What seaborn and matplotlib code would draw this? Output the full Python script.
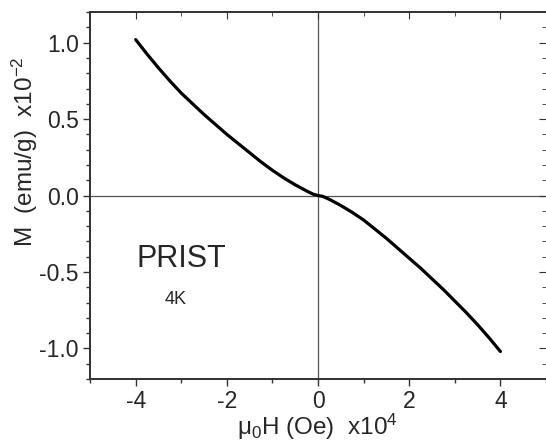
import pandas as pd
import matplotlib
matplotlib.use("Agg")
import matplotlib.pyplot as plt
from matplotlib.ticker import MultipleLocator
import seaborn as sns

sns.set_style("ticks")
plt.rcParams["font.family"] = ["Liberation Sans", "DejaVu Sans"]
plt.rcParams["mathtext.fontset"] = "custom"
plt.rcParams["mathtext.rm"] = "Liberation Sans"
plt.rcParams["mathtext.it"] = "Liberation Sans:italic"
plt.rcParams["mathtext.default"] = "regular"

# champ applique (x10^4 Oe) et aimantation (x10^-2 emu/g)
champ = [-4.0, -3.75, -3.5, -3.25, -3.0, -2.75, -2.5, -2.25, -2.0, -1.75,
         -1.5, -1.25, -1.0, -0.75, -0.5, -0.25, -0.1, 0.0,
         0.1, 0.25, 0.5, 0.75, 1.0, 1.25, 1.5, 1.75, 2.0, 2.25,
         2.5, 2.75, 3.0, 3.25, 3.5, 3.75, 4.0]
aimantation = [1.02, 0.925, 0.835, 0.75, 0.67, 0.60, 0.53, 0.465, 0.40, 0.34,
               0.28, 0.22, 0.165, 0.115, 0.07, 0.03, 0.008, 0.0,
               -0.005, -0.025, -0.065, -0.11, -0.16, -0.22, -0.28, -0.345, -0.41, -0.475,
               -0.545, -0.615, -0.69, -0.765, -0.845, -0.93, -1.02]
x_ticks = [-4, -2, 0, 2, 4]
y_ticks = [-1.0, -0.5, 0.0, 0.5, 1.0]

df = pd.DataFrame({"H": champ, "M": aimantation})

fig = plt.figure(figsize=(5.46, 4.48), dpi=100)
ax = fig.add_axes([0.165, 0.154, 0.835, 0.819])

ax.axhline(0, color="#555555", lw=0.9, zorder=1)
ax.axvline(0, color="#555555", lw=0.9, zorder=1)
sns.lineplot(data=df, x="H", y="M", color="black", lw=2.3, sort=False, ax=ax, zorder=3)

ax.set_xlim(-5, 5)
ax.set_ylim(-1.2, 1.2)
ax.xaxis.set_minor_locator(MultipleLocator(1))
ax.yaxis.set_minor_locator(MultipleLocator(0.1))
ax.set_xticks(x_ticks)
ax.set_xticklabels([str(v) for v in x_ticks])
ax.set_yticks(y_ticks)
ax.set_yticklabels([f"{v:.1f}" for v in y_ticks])

ax.tick_params(which="both", direction="out", top=False, right=False,
               labelsize=16.5, width=1, color="#333333")
ax.tick_params(which="major", length=5, pad=3)
ax.tick_params(which="minor", length=3)

# graduations interieures en haut et a droite
ax2 = ax.twinx()
ax2.set_ylim(ax.get_ylim())
ax2.yaxis.set_major_locator(MultipleLocator(0.5))
ax2.yaxis.set_minor_locator(MultipleLocator(0.1))
ax2.tick_params(which="both", direction="in", labelright=False, color="#333333")
ax2.tick_params(which="major", length=5)
ax2.tick_params(which="minor", length=3)
ax3 = ax.twiny()
ax3.set_xlim(ax.get_xlim())
ax3.xaxis.set_major_locator(MultipleLocator(2))
ax3.xaxis.set_minor_locator(MultipleLocator(1))
ax3.tick_params(which="both", direction="in", labeltop=False, color="#333333")
ax3.tick_params(which="major", length=5)
ax3.tick_params(which="minor", length=3)
for a in [ax, ax2, ax3]:
    for sp in a.spines.values():
        sp.set_color("#333333")
        sp.set_linewidth(1.1)
    a.spines["right"].set_visible(False)

ax.set_xlabel("μ$_0$H (Oe)  x10$^4$", fontsize=17.5)
ax.xaxis.set_label_coords(0.498, -0.09)
ax.set_ylabel("M  (emu/g)  x10$^{-2}$", fontsize=17.5)
ax.yaxis.set_label_coords(-0.11, 0.62)

ax.text(-3.98, -0.465, "PRIST", fontsize=22)
ax.text(-3.36, -0.71, "4K", fontsize=13)

fig.savefig("out.png", dpi=100)
plt.close(fig)
